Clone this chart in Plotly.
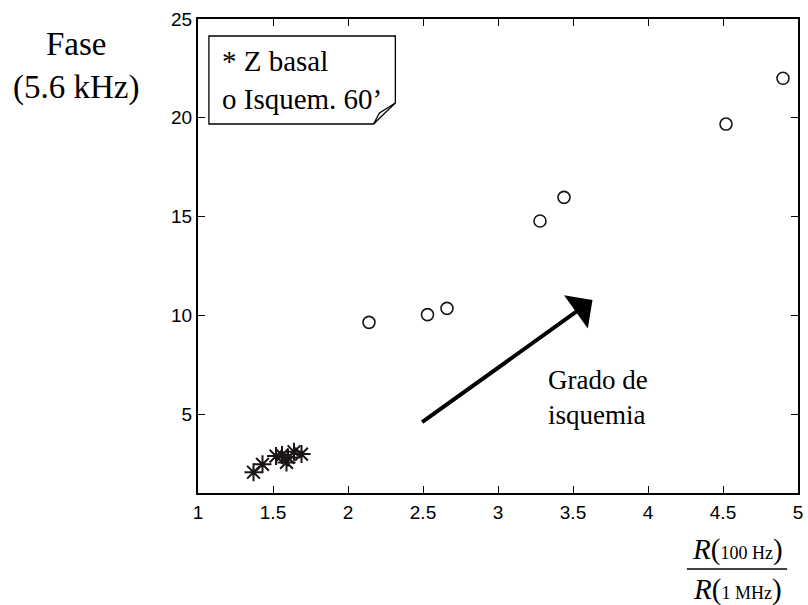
import plotly.graph_objects as go

# Basal impedance measurements (asterisks)
basal_x = [1.37, 1.43, 1.52, 1.56, 1.59, 1.60, 1.64, 1.69]
basal_y = [2.05, 2.45, 2.87, 2.92, 2.55, 2.80, 3.09, 2.97]

# Measurements after 60 min of ischemia (open circles)
isq_x = [2.14, 2.53, 2.66, 3.28, 3.44, 4.52, 4.90]
isq_y = [9.64, 10.03, 10.35, 14.77, 15.97, 19.68, 22.00]

x_ticks = [1, 1.5, 2, 2.5, 3, 3.5, 4, 4.5, 5]
y_ticks = [5, 10, 15, 20, 25]

W, H = 808, 605
L, R, T, B = 198, 5, 19, 112
PW, PH = W - L - R, H - T - B

def px(xp):
    return (xp - L) / PW

def py(yp):
    return (H - B - yp) / PH

SERIF = "Liberation Serif, Times New Roman, serif"
SANS = "Liberation Sans, Arial, sans-serif"
INK = "#1a1414"

fig = go.Figure()
fig.add_trace(go.Scatter(
    x=basal_x, y=basal_y, mode="markers",
    marker=dict(symbol="asterisk-open", size=15, color=INK,
                line=dict(color=INK, width=2)),
    showlegend=False, hoverinfo="skip"))
fig.add_trace(go.Scatter(
    x=isq_x, y=isq_y, mode="markers",
    marker=dict(symbol="circle-open", size=12, color=INK,
                line=dict(color=INK, width=1.6)),
    showlegend=False, hoverinfo="skip"))

axis_common = dict(
    showgrid=False, zeroline=False, showline=True, linecolor="black", linewidth=2,
    mirror="ticks", ticks="inside", ticklen=7, tickwidth=1.3, tickcolor="black",
    tickfont=dict(family=SANS, size=19, color="black"),
)
fig.update_xaxes(range=[1, 5], tickvals=x_ticks, ticktext=[f"{v:g}" for v in x_ticks],
                 ticklabelstandoff=1, **axis_common)
fig.update_yaxes(range=[1, 25], tickvals=y_ticks, ticktext=[str(v) for v in y_ticks],
                 ticklabelstandoff=0, **axis_common)

shapes = []
# note-style legend box with a curled lower-right corner
box = (f"M {px(209)},{py(36)} L {px(397)},{py(36)} L {px(397)},{py(103)} "
       f"L {px(375)},{py(124)} L {px(209)},{py(124)} Z")
shapes.append(dict(type="path", path=box, xref="paper", yref="paper",
                   line=dict(color="black", width=1.3), fillcolor="white"))
curl = f"M {px(375)},{py(124)} L {px(381)},{py(113)} L {px(397)},{py(103)}"
shapes.append(dict(type="path", path=curl, xref="paper", yref="paper",
                   line=dict(color="black", width=1.3)))
# fraction bar of the x-axis title
shapes.append(dict(type="line", xref="paper", yref="paper",
                   x0=px(691), x1=px(792), y0=py(569), y1=py(569),
                   line=dict(color="black", width=1.3)))

annotations = [
    dict(text="* Z basal<br>o Isquem. 60’", xref="paper", yref="paper",
         x=px(220), y=py(80), xanchor="left", yanchor="middle", align="left",
         showarrow=False, font=dict(family=SERIF, size=29, color="black")),
    dict(text="Fase<br>(5.6 kHz)", xref="paper", yref="paper",
         x=px(75), y=py(66), xanchor="center", yanchor="middle", align="center",
         showarrow=False, font=dict(family=SERIF, size=33, color="black")),
    dict(text="Grado de<br>isquemia", xref="paper", yref="paper",
         x=px(549), y=py(397), xanchor="left", yanchor="middle", align="left",
         showarrow=False, font=dict(family=SERIF, size=27, color="black")),
    dict(text='<i>R</i>(<span style="font-size:18px">100 Hz</span>)',
         xref="paper", yref="paper", x=px(742), y=py(549),
         xanchor="center", yanchor="middle", showarrow=False,
         font=dict(family=SERIF, size=29, color="black")),
    dict(text='<i>R</i>(<span style="font-size:18px">1 MHz</span>)',
         xref="paper", yref="paper", x=px(742), y=py(589),
         xanchor="center", yanchor="middle", showarrow=False,
         font=dict(family=SERIF, size=29, color="black")),
    # arrow indicating increasing ischemia
    dict(x=3.63, y=10.77, ax=2.484, ay=4.53, xref="x", yref="y", axref="x", ayref="y",
         text="", showarrow=True, arrowhead=1, arrowsize=1.7, arrowwidth=4,
         arrowcolor="black", standoff=0, startstandoff=0),
]

fig.update_layout(
    width=W, height=H, margin=dict(l=L, r=R, t=T, b=B),
    paper_bgcolor="white", plot_bgcolor="white",
    shapes=shapes, annotations=annotations,
)

fig.write_html("out.html")
